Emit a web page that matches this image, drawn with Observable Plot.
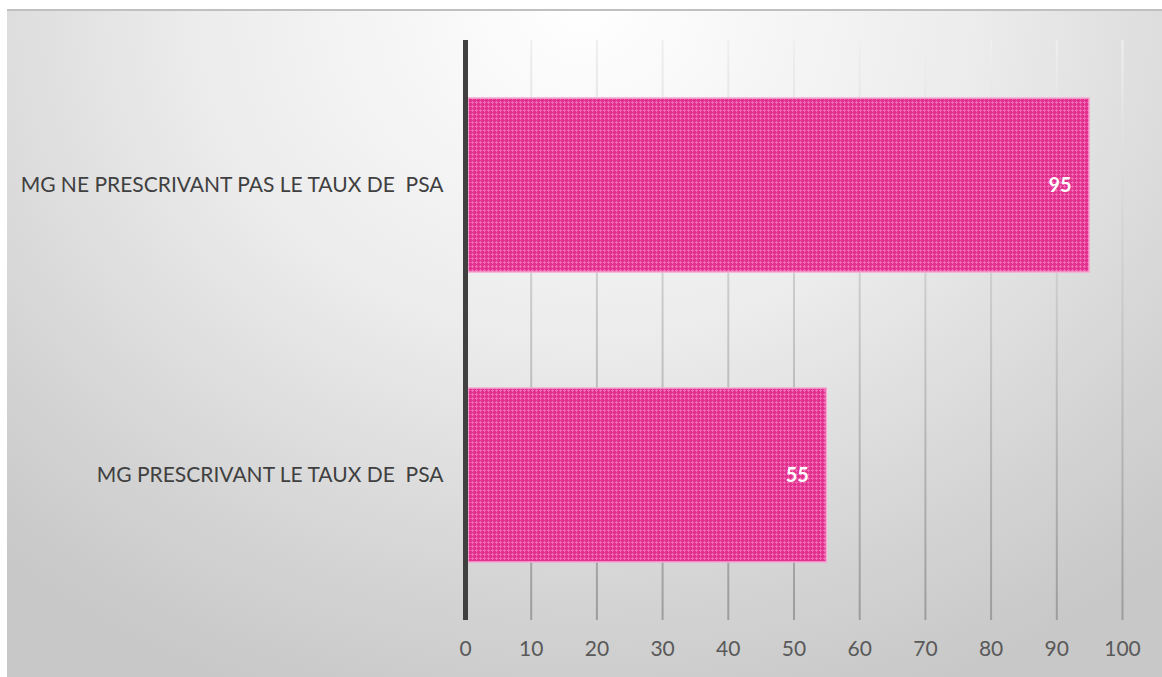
<!DOCTYPE html>
<html>
<head>
<meta charset="utf-8">
<script src="https://cdn.jsdelivr.net/npm/d3@7"></script>
<script src="https://cdn.jsdelivr.net/npm/@observablehq/plot@0.6"></script>
<style>
  body { margin: 0; background: #ffffff; }
  #frame {
    position: absolute; left: 7px; top: 9px; width: 1155px; height: 668px;
    background: radial-gradient(ellipse 75% 110% at 50% 0%, #ffffff 0%, #ececec 45%, #d4d4d4 80%, #c8c8c8 100%);
    box-shadow: inset 0 2px 0 #c0c0c0;
  }
  #frame svg text { white-space: pre; }
</style>
</head>
<body>
<svg width="0" height="0" style="position:absolute">
  <defs>
    <!-- dotted magenta fill for the bars -->
    <pattern id="dots" width="4" height="4" patternUnits="userSpaceOnUse">
      <rect width="4" height="4" fill="#e2318f"/>
      <rect x="1" y="0" width="1" height="3" fill="#ef6cb4"/>
      <rect x="0" y="1" width="3" height="1" fill="#ef6cb4"/>
    </pattern>
    <!-- gridlines fade from pale at the top to grey at the bottom -->
    <linearGradient id="gridFade" gradientUnits="userSpaceOnUse" x1="0" y1="31" x2="0" y2="611">
      <stop offset="0" stop-color="#efefef"/>
      <stop offset="1" stop-color="#9c9c9c"/>
    </linearGradient>
  </defs>
</svg>
<div id="frame"></div>
<script>
const categories = ["MG NE PRESCRIVANT PAS LE TAUX DE  PSA", "MG PRESCRIVANT LE TAUX DE  PSA"];
const values = [95, 55];
const xTicks = [0, 10, 20, 30, 40, 50, 60, 70, 80, 90, 100];

const rows = categories.map((c, i) => ({category: c, value: values[i]}));

const chart = Plot.plot({
  width: 1155,
  height: 668,
  marginLeft: 458,
  marginRight: 40,
  marginTop: 31,
  marginBottom: 57,
  style: {background: "transparent", fontFamily: "Lato, 'Open Sans', sans-serif", overflow: "visible"},
  x: {domain: [0, 100], ticks: xTicks, label: null, axis: null},
  y: {domain: categories, paddingInner: 0.4, paddingOuter: 0.2, label: null, axis: null},
  marks: [
    Plot.ruleX(xTicks.filter(d => d > 0), {stroke: "url(#gridFade)", strokeWidth: 2}),
    Plot.barX(rows, {x: "value", y: "category", fill: "url(#dots)", stroke: "#f6a9d2", strokeWidth: 1.5, insetLeft: 3}),
    Plot.ruleX([0], {stroke: "#404040", strokeWidth: 5}),
    Plot.text(rows, {x: "value", y: "category", text: d => String(d.value), textAnchor: "end", dx: -18, fill: "#ffffff", fontWeight: "bold", fontSize: 20}),
    Plot.axisX({ticks: xTicks, tickSize: 0, tickPadding: 21, fontSize: 21, color: "#595959", label: null}),
    Plot.axisY({tickSize: 0, tickPadding: 22, fontSize: 21, color: "#404040", label: null})
  ]
});
document.getElementById("frame").appendChild(chart);
</script>
</body>
</html>
